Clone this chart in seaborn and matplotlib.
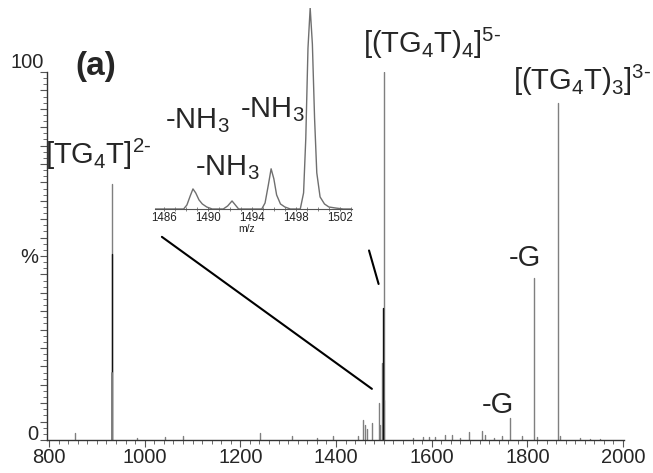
import numpy as np
import pandas as pd
import matplotlib
matplotlib.use("Agg")
import matplotlib.pyplot as plt
from matplotlib.ticker import MultipleLocator, FixedLocator, NullFormatter
import seaborn as sns

# ---------------- data ----------------
# main stick spectrum (m/z, relative intensity %)
peak_mz = [854, 985, 1042, 1081, 1241, 1307, 1360, 1394, 1445, 1456, 1461, 1465, 1475,
           1489, 1492.5, 1496, 1499.3, 1501, 1560, 1582, 1595, 1607, 1628, 1642, 1660,
           1679, 1706, 1712, 1730, 1746, 1763, 1788, 1814, 1820, 1864, 1868, 1910, 1931, 1952,
           930.7]
peak_int = [2.0, 0.5, 0.7, 1.0, 2.0, 1.0, 0.5, 1.2, 1.0, 5.5, 4.0, 3.0, 4.5,
            10, 4, 21, 100, 11, 0.5, 0.7, 0.7, 0.7, 1.3, 1.3, 0.5,
            2.3, 2.5, 1.3, 0.5, 1.0, 6.0, 1.0, 44, 0.8, 91.6, 1.2, 0.5, 0.4, 0.4,
            69.6]
# darker overlapping sticks
dark_mz = [930.7, 1498.5]
dark_int = [50.5, 36]
# lower overlapping gray stick
low_mz = [931.4]
low_int = [18.2]

# inset profile (m/z, %)
inset_mz = [1485.2, 1487.8, 1488.1, 1488.4, 1488.65, 1488.9, 1489.2, 1489.5, 1489.9, 1490.4,
            1491.4, 1491.8, 1492.2, 1492.5, 1492.8, 1494.9, 1495.2, 1495.5, 1495.75, 1496.0,
            1496.25, 1496.6, 1497.0, 1497.5, 1498.4, 1498.7, 1498.9, 1499.1, 1499.3, 1499.5,
            1499.7, 1499.9, 1500.2, 1500.6, 1501.0, 1501.6, 1502.3, 1503.1]
inset_int = [0, 0, 2, 6.5, 10, 8, 4.5, 2.5, 1, 0,
             0, 1.5, 4, 2, 0, 0, 3, 12, 20, 15,
             7, 2.5, 1, 0, 0, 8, 35, 80, 100, 82,
             45, 18, 6, 2.5, 1, 0.5, 0, 0]

x_ticks = [800, 1000, 1200, 1400, 1600, 1800, 2000]
inset_ticks = [1486, 1490, 1494, 1498, 1502]


def sticks(mz, inten):
    rows = []
    for i, (m, h) in enumerate(zip(mz, inten)):
        rows += [(i, m, 0.0), (i, m, h)]
    return pd.DataFrame(rows, columns=["pk", "mz", "int"])


sns.set_style("ticks")
plt.rcParams["font.family"] = ["Liberation Sans", "DejaVu Sans"]
plt.rcParams["mathtext.fontset"] = "custom"
plt.rcParams["mathtext.rm"] = "Liberation Sans"
plt.rcParams["mathtext.it"] = "Liberation Sans:italic"
plt.rcParams["mathtext.bf"] = "Liberation Sans:bold"

W, H = 653, 473
fig = plt.figure(figsize=(W / 100, H / 100), dpi=100)


def box(l, r, b, t):
    return [l / W, 1 - b / H, (r - l) / W, (b - t) / H]


GRAY = "#7f7f7f"
ax = fig.add_axes(box(46.6, 624, 440, 72))
sns.lineplot(data=sticks(peak_mz, peak_int), x="mz", y="int", units="pk", estimator=None,
             sort=False, color=GRAY, lw=1.0, ax=ax)
sns.lineplot(data=sticks(dark_mz, dark_int), x="mz", y="int", units="pk", estimator=None,
             sort=False, color="#111111", lw=1.0, ax=ax)
sns.lineplot(data=sticks(low_mz, low_int), x="mz", y="int", units="pk", estimator=None,
             sort=False, color=GRAY, lw=1.4, ax=ax)
ax.set_xlim(795, 2002)
ax.set_ylim(0, 100)
ax.set_xlabel("")
ax.set_ylabel("")
for s in ["top", "right"]:
    ax.spines[s].set_visible(False)
for s in ["left", "bottom"]:
    ax.spines[s].set_color("#333333")
    ax.spines[s].set_linewidth(1.0)
ax.xaxis.set_major_locator(FixedLocator(x_ticks))
ax.set_xticklabels([str(t) for t in x_ticks], fontsize=14.5)
ax.xaxis.set_minor_locator(MultipleLocator(20))
ax.yaxis.set_major_locator(MultipleLocator(5))
ax.yaxis.set_minor_locator(MultipleLocator(5 / 3))
ax.yaxis.set_major_formatter(NullFormatter())
ax.tick_params(axis="both", which="major", length=5, width=0.8, color="#555555", pad=2)
ax.tick_params(axis="both", which="minor", length=3, width=0.6, color="#555555")
ax.tick_params(axis="x", which="major", pad=1)

# y labels
ax.text(-0.004, 102.7, "100", transform=ax.get_yaxis_transform(), ha="right", va="center", fontsize=14.5)
ax.text(-0.015, 1.4, "0", transform=ax.get_yaxis_transform(), ha="right", va="center", fontsize=14.5)
ax.text(-0.015, 49.5, "%", transform=ax.get_yaxis_transform(), ha="right", va="center", fontsize=14.5)

# connector lines (main data coordinates)
ax.plot([1036, 1475], [55.2, 13.9], color="black", lw=1.5, clip_on=False)
ax.plot([1469, 1489], [51.5, 42.4], color="black", lw=1.5, clip_on=False)


def ftext(x, y, s, **kw):
    fig.text(x / W, 1 - y / H, s, **kw)


FS = 21
ftext(75, 66, "(a)", fontsize=24, fontweight="bold", ha="left", va="center")
ftext(45, 164, "[TG$_4$T]$^{2‐}$", fontsize=FS, ha="left", va="baseline")
ftext(363, 53, "[(TG$_4$T)$_4$]$^{5‐}$", fontsize=FS, ha="left", va="baseline")
ftext(513, 90, "[(TG$_4$T)$_3$]$^{3‐}$", fontsize=FS, ha="left", va="baseline")
ftext(165, 128, "-NH$_3$", fontsize=FS, ha="left", va="baseline")
ftext(240, 117, "-NH$_3$", fontsize=FS, ha="left", va="baseline")
ftext(195, 175, "-NH$_3$", fontsize=FS, ha="left", va="baseline")
ftext(509, 266, "-G", fontsize=FS, ha="left", va="baseline")
ftext(482, 413, "-G", fontsize=FS, ha="left", va="baseline")

# inset
axi = fig.add_axes(box(155, 352, 209, 8))
axi.patch.set_alpha(0)
sns.lineplot(x=inset_mz, y=inset_int, sort=False, color="#6f6f6f", lw=1.0, ax=axi)
axi.set_xlim(1485.2, 1503.1)
axi.set_ylim(0, 100)
for s in ["top", "right", "left"]:
    axi.spines[s].set_visible(False)
axi.spines["bottom"].set_color("#555555")
axi.spines["bottom"].set_linewidth(0.8)
axi.set_yticks([])
axi.xaxis.set_major_locator(FixedLocator(inset_ticks))
axi.set_xticklabels([str(t) for t in inset_ticks], fontsize=8.3, color="#222222")
axi.xaxis.set_minor_locator(MultipleLocator(1))
axi.tick_params(axis="x", which="major", length=3, width=0.6, direction="inout", color="#555555", pad=1)
axi.tick_params(axis="x", which="minor", length=2.5, width=0.5, direction="inout", color="#555555")
axi.set_xlabel("m/z", fontsize=7.5, color="#222222")
axi.xaxis.set_label_coords(0.467, -0.075)
axi.set_ylabel("")

fig.savefig("out.png", dpi=100)
